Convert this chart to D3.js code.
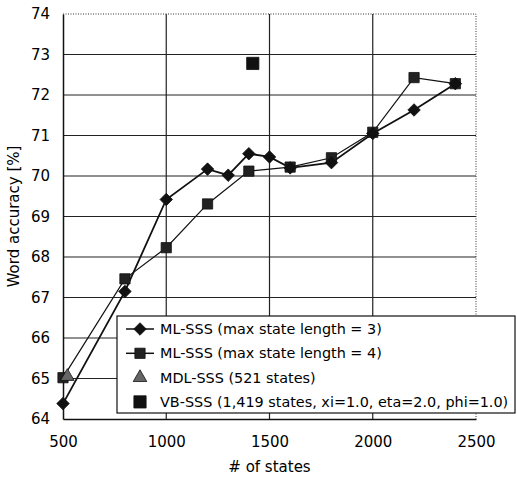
<!DOCTYPE html>
<html>
<head>
<meta charset="utf-8">
<script src="https://cdn.jsdelivr.net/npm/d3@7"></script>
<style>
  body { margin: 0; background: #fff; }
  text { font-family: "DejaVu Sans", Verdana, sans-serif; fill: #000; }
</style>
</head>
<body>
<script>
// data
var states = [500, 800, 1000, 1200, 1300, 1400, 1500, 1600, 1800, 2000, 2200, 2400];
var mlsss3 = [64.38, 67.15, 69.42, 70.17, 70.02, 70.55, 70.47, 70.2, 70.33, 71.05, 71.63, 72.28];
var states4 = [500, 800, 1000, 1200, 1400, 1600, 1800, 2000, 2200, 2400];
var mlsss4 = [65.02, 67.46, 68.23, 69.31, 70.12, 70.22, 70.45, 71.08, 72.43, 72.28];
var mdl = [[521, 65.05]];
var vb = [[1419, 72.78]];
var xTicks = [500, 1000, 1500, 2000, 2500];
var yTicks = [64, 65, 66, 67, 68, 69, 70, 71, 72, 73, 74];
var legendLabels = ["ML-SSS (max state length = 3)", "ML-SSS (max state length = 4)",
  "MDL-SSS (521 states)", "VB-SSS (1,419 states, xi=1.0, eta=2.0, phi=1.0)"];

var W = 517, H = 477;
var margin = {top: 14, right: 41, bottom: 58, left: 63};
var width = W - margin.left - margin.right,
    height = H - margin.top - margin.bottom;

var svg = d3.select("body").append("svg")
    .attr("width", W)
    .attr("height", H);

var g = svg.append("g")
    .attr("transform", "translate(" + margin.left + "," + margin.top + ")");

var x = d3.scaleLinear().domain([500, 2500]).range([0, width]);
var y = d3.scaleLinear().domain([64, 74]).range([height, 0]);

// grid
g.selectAll(".hgrid")
  .data(yTicks.slice(1, -1))
  .enter().append("line")
    .attr("x1", 0).attr("x2", width)
    .attr("y1", function(d) { return y(d); })
    .attr("y2", function(d) { return y(d); })
    .attr("stroke", "#222").attr("stroke-width", 1.2);

g.selectAll(".vgrid")
  .data(xTicks.slice(1, -1))
  .enter().append("line")
    .attr("x1", function(d) { return x(d); })
    .attr("x2", function(d) { return x(d); })
    .attr("y1", 0).attr("y2", height)
    .attr("stroke", "#222").attr("stroke-width", 1.2);

// dotted top / right border
g.append("path")
  .attr("d", "M0,0H" + width + "V" + height)
  .attr("fill", "none")
  .attr("stroke", "#333")
  .attr("stroke-dasharray", "1,1.5");

// axes
var xAxis = d3.axisBottom(x).tickValues(xTicks).tickFormat(d3.format("d")).tickSize(0).tickPadding(17);
var yAxis = d3.axisLeft(y).tickValues(yTicks).tickFormat(d3.format("d")).tickSize(0).tickPadding(13);

g.append("g")
  .attr("transform", "translate(0," + height + ")")
  .call(xAxis)
  .call(function(s) {
    s.select(".domain").attr("stroke", "#111").attr("stroke-width", 1.5);
    s.selectAll("text").attr("font-size", 15);
  });

g.append("g")
  .call(yAxis)
  .call(function(s) {
    s.select(".domain").attr("stroke", "#111").attr("stroke-width", 1.5);
    s.selectAll("text").attr("font-size", 15);
  });

svg.append("text")
  .attr("x", margin.left + width / 2)
  .attr("y", 472)
  .attr("text-anchor", "middle")
  .attr("font-size", 15)
  .text("# of states");

svg.append("text")
  .attr("transform", "translate(19," + (margin.top + height / 2) + ") rotate(-90)")
  .attr("text-anchor", "middle")
  .attr("font-size", 15)
  .text("Word accuracy [%]");

// lines
var line = d3.line()
  .x(function(d) { return x(d[0]); })
  .y(function(d) { return y(d[1]); });

var s3 = states.map(function(d, i) { return [d, mlsss3[i]]; });
var s4 = states4.map(function(d, i) { return [d, mlsss4[i]]; });

g.append("path").datum(s4)
  .attr("d", line).attr("fill", "none")
  .attr("stroke", "#111").attr("stroke-width", 1.2);

g.append("path").datum(s3)
  .attr("d", line).attr("fill", "none")
  .attr("stroke", "#111").attr("stroke-width", 1.8);

var diamond = d3.symbol().type(d3.symbolDiamond2).size(100);
var square = d3.symbol().type(d3.symbolSquare).size(105);
var bigSquare = d3.symbol().type(d3.symbolSquare).size(150);
var tri = d3.symbol().type(d3.symbolTriangle).size(80);

function marks(data, sym, fill) {
  g.selectAll(null)
    .data(data)
    .enter().append("path")
      .attr("d", sym)
      .attr("transform", function(d) { return "translate(" + x(d[0]) + "," + y(d[1]) + ")"; })
      .attr("fill", fill)
      .attr("stroke", "#111")
      .attr("stroke-width", 0.8);
}

marks(s4, square, "#222");
marks(s3, diamond, "#111");
marks(mdl, tri, "#666");
marks(vb, bigSquare, "#111");

// legend
var leg = svg.append("g").attr("transform", "translate(117,316)");
leg.append("rect")
  .attr("width", 398).attr("height", 97)
  .attr("fill", "#fff").attr("stroke", "#111").attr("stroke-width", 1.2);

var rows = leg.selectAll(".row")
  .data(legendLabels)
  .enter().append("g")
    .attr("transform", function(d, i) { return "translate(0," + (13 + i * 24.3) + ")"; });

rows.append("text")
  .attr("x", 43)
  .attr("dy", "0.35em")
  .attr("font-size", 14.4)
  .text(function(d) { return d; });

rows.filter(function(d, i) { return i < 2; })
  .append("line")
    .attr("x1", 9).attr("x2", 37)
    .attr("stroke", "#111").attr("stroke-width", 1.5);

var legSyms = [diamond, square, tri, bigSquare];
var legFill = ["#111", "#222", "#666", "#111"];
rows.append("path")
  .attr("d", function(d, i) { return legSyms[i](); })
  .attr("transform", "translate(23,0)")
  .attr("fill", function(d, i) { return legFill[i]; })
  .attr("stroke", "#111")
  .attr("stroke-width", 0.8);
</script>
</body>
</html>
